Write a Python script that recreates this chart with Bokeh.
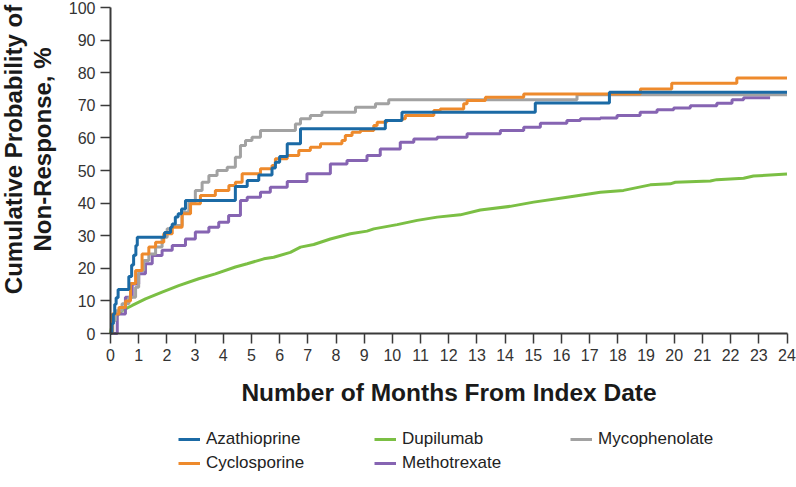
import numpy as np
from bokeh.plotting import figure
from bokeh.models import Range1d, Legend, LegendItem, Label, FixedTicker
from bokeh.embed import file_html
from bokeh.resources import INLINE

# ---- data ----
month_ticks = list(range(0, 25))
pct_ticks = list(range(0, 101, 10))

series_names = ["Azathioprine", "Cyclosporine", "Dupilumab", "Methotrexate", "Mycophenolate"]

aza_t = [0, 0.05, 0.1, 0.15, 0.2, 0.27, 0.65, 0.75, 0.82, 0.9, 0.95, 1.92, 2.13, 2.19, 2.3, 2.4,
         2.52, 2.66, 4.43, 4.85, 5.26, 5.73, 5.85, 6.0, 6.27, 6.74, 9.75, 10.34, 15.07, 17.7, 24]
aza_v = [0, 3, 6, 9, 11, 13.5, 17.5, 21, 24, 27, 29.5, 31, 32.6, 33.6, 35.7, 36.7,
         38.2, 40.8, 45.1, 46.9, 48.6, 50.8, 52.5, 54.3, 58.2, 62.8, 65.3, 67.9, 70.7, 74.0, 74.0]

cyc_t = [0, 0.06, 0.3, 0.53, 0.71, 0.89, 1.12, 1.36, 1.6, 1.89, 2.19, 2.54, 2.84, 3.19, 3.72, 4.2,
         4.43, 4.67, 5.32, 5.73, 5.85, 6.27, 6.68, 7.09, 7.45, 8.21, 8.33, 8.57, 8.87, 9.34, 9.46,
         9.8, 10.34, 10.46, 11.47, 11.7, 12.53, 12.65, 13.3, 14.66, 18.8, 19.91, 22.22, 24]
cyc_v = [0, 6, 8, 10, 15.3, 19.3, 24.4, 26.5, 28, 30.6, 32.6, 36.7, 39.8, 42.3, 43.9, 45.4,
         46.4, 49, 50.5, 51.5, 53.6, 54.6, 56.1, 57.1, 58.2, 59.2, 60.7, 61.7, 62.3, 63.8, 64.8,
         65.3, 65.9, 66.9, 68.4, 68.9, 70.5, 71.5, 72.5, 73.5, 75.0, 76.8, 78.4, 78.4]

dup_t = [0, 0.05, 0.18, 0.41, 0.77, 1.24, 1.83, 2.42, 3.13, 3.72, 4.43, 4.85, 5.44, 5.79, 6.38,
         6.74, 7.21, 7.8, 8.51, 9.1, 9.34, 10.17, 10.88, 11.59, 12.41, 13.12, 14.18, 15.01, 16.2,
         17.38, 18.2, 19.15, 19.86, 20.04, 21.28, 21.51, 22.46, 22.81, 24]
dup_v = [0, 2.5, 5, 7, 8.6, 10.6, 12.7, 14.7, 16.8, 18.3, 20.4, 21.4, 22.9, 23.4, 24.9,
         26.5, 27.3, 29.0, 30.6, 31.4, 32.1, 33.4, 34.7, 35.7, 36.4, 37.9, 39.0, 40.3, 41.8,
         43.3, 43.9, 45.6, 45.9, 46.4, 46.8, 47.2, 47.6, 48.3, 48.9]

mtx_t = [0, 0.24, 0.53, 0.77, 1.0, 1.24, 1.48, 1.83, 2.19, 2.66, 3.01, 3.49, 3.84, 4.19, 4.61,
         4.85, 5.32, 5.67, 6.27, 6.97, 7.8, 8.39, 9.1, 9.57, 10.28, 10.76, 11.59, 12.65, 13.83,
         14.66, 15.25, 16.19, 16.67, 17.38, 17.97, 18.79, 19.39, 19.98, 20.57, 21.51, 22.05,
         22.46, 23.4]
mtx_v = [0, 6, 11.1, 15.2, 18.3, 21.4, 23.9, 25.5, 27, 29, 31.1, 32.6, 34.1, 36.2, 40.8,
         41.8, 43.3, 44.9, 46.6, 49, 52, 53.1, 54.6, 56.6, 58.7, 59.7, 60.2, 61.3, 62.3,
         63.3, 64.5, 65.3, 65.9, 66.1, 66.9, 67.9, 68.6, 69.2, 69.9, 70.6, 71.7,
         72.3, 72.3]

myc_t = [0, 0.08, 0.18, 0.41, 0.65, 0.89, 1.0, 1.18, 1.36, 1.6, 1.83, 2.01, 2.19, 2.54, 2.78,
         3.01, 3.25, 3.49, 3.78, 4.14, 4.43, 4.61, 4.79, 5.02, 5.32, 6.56, 6.74, 7.09, 7.5, 8.69,
         9.4, 9.87, 16.55, 24]
myc_v = [0, 4, 7, 9.1, 11.1, 14.2, 19.3, 22.4, 24.4, 26.5, 29.5, 32.1, 33.1, 37.2, 40.3,
         43.9, 46.4, 48.5, 50, 51, 54.1, 57.7, 59.2, 60.2, 62.3, 64.3, 65.9, 66.9, 67.9, 69.4,
         70.5, 71.7, 73.2, 73.2]

y_title_lines = ["Cumulative Probability of", "Non-Response, %"]
x_title = "Number of Months From Index Date"

colors = {
    "Azathioprine": "#1b6aa5",
    "Cyclosporine": "#ee8a2c",
    "Dupilumab": "#7bbf44",
    "Methotrexate": "#8664b2",
    "Mycophenolate": "#a2a2a2",
}

FONT = "Liberation Sans"
AX = "#3a3a3a"

# ---- layout geometry (canvas pixels; the canvas is shifted 8px up/left by the margin) ----
W, H = 804, 490
SHIFT = 8
X_LEFT, X_RIGHT = 110 + SHIFT, 786.5 + SHIFT      # pixel of month 0 / month 24
Y_BOTTOM, Y_TOP = 333 + SHIFT, 7 + SHIFT          # pixel of 0 % / 100 %
x_scale = (X_RIGHT - X_LEFT) / 24.0
y_scale = (Y_BOTTOM - Y_TOP) / 100.0
x_range = Range1d(-X_LEFT / x_scale, (W - X_LEFT) / x_scale)
y_range = Range1d(-(H - Y_BOTTOM) / y_scale, 100 + Y_TOP / y_scale)

p = figure(width=W, height=H, output_backend="svg", toolbar_location=None,
           x_range=x_range, y_range=y_range,
           min_border=0, min_border_left=0, min_border_right=0,
           min_border_top=0, min_border_bottom=0)
p.margin = (-SHIFT, 0, 0, -SHIFT)
p.outline_line_color = None
p.xgrid.visible = False
p.ygrid.visible = False
p.background_fill_color = "white"
p.border_fill_color = "white"

r_dup = p.line(dup_t, dup_v, line_width=3, color=colors["Dupilumab"])
r_mtx = p.step(mtx_t, mtx_v, mode="after", line_width=3, color=colors["Methotrexate"])
r_myc = p.step(myc_t, myc_v, mode="after", line_width=3, color=colors["Mycophenolate"])
r_cyc = p.step(cyc_t, cyc_v, mode="after", line_width=3, color=colors["Cyclosporine"])
r_aza = p.step(aza_t, aza_v, mode="after", line_width=3, color=colors["Azathioprine"])

renderers = {"Azathioprine": r_aza, "Cyclosporine": r_cyc, "Dupilumab": r_dup,
             "Methotrexate": r_mtx, "Mycophenolate": r_myc}

for ax in (p.xaxis, p.yaxis):
    ax.fixed_location = 0
    ax.axis_line_color = AX
    ax.axis_line_width = 2
    ax.major_tick_line_color = AX
    ax.major_tick_line_width = 1.5
    ax.major_tick_out = 10
    ax.major_tick_in = 0
    ax.minor_tick_out = 0
    ax.minor_tick_in = 0
    ax.major_label_text_font = FONT
    ax.major_label_text_font_size = "16px"
    ax.major_label_text_color = "#333333"
    ax.major_label_standoff = 5

p.xaxis.bounds = (0, 24)
p.yaxis.bounds = (0, 100)
p.xaxis.ticker = FixedTicker(ticks=month_ticks)
p.yaxis.ticker = FixedTicker(ticks=pct_ticks)

p.xaxis.axis_label = x_title
p.xaxis.axis_label_text_font = FONT
p.xaxis.axis_label_text_font_style = "bold"
p.xaxis.axis_label_text_font_size = "24.5px"
p.xaxis.axis_label_text_color = "#1a1a1a"
p.xaxis.axis_label_standoff = 15

# y title: two rotated lines (screen units: from frame left / frame bottom)
for txt, bx in ((y_title_lines[0], 13 + SHIFT), (y_title_lines[1], 42 + SHIFT)):
    p.add_layout(Label(x=bx, y=H - (149 + SHIFT), x_units="screen", y_units="screen",
                       text=txt, angle=np.pi / 2, text_align="center",
                       text_baseline="alphabetic", text_font=FONT,
                       text_font_style="bold", text_font_size="24px",
                       text_color="#1a1a1a"))

items = [LegendItem(label=n, renderers=[renderers[n]]) for n in series_names]
legend = Legend(items=items, location=(178 + SHIFT, H - (427 + SHIFT) - 48),
                orientation="vertical", nrows=2,
                glyph_width=22, glyph_height=24, label_standoff=6, label_height=24,
                label_width=168, spacing=0, padding=0, margin=0,
                border_line_color=None, background_fill_alpha=0,
                label_text_font=FONT, label_text_font_size="17px",
                label_text_color="#222222")
p.add_layout(legend, "center")

open("out.html", "w").write(file_html(p, INLINE))
